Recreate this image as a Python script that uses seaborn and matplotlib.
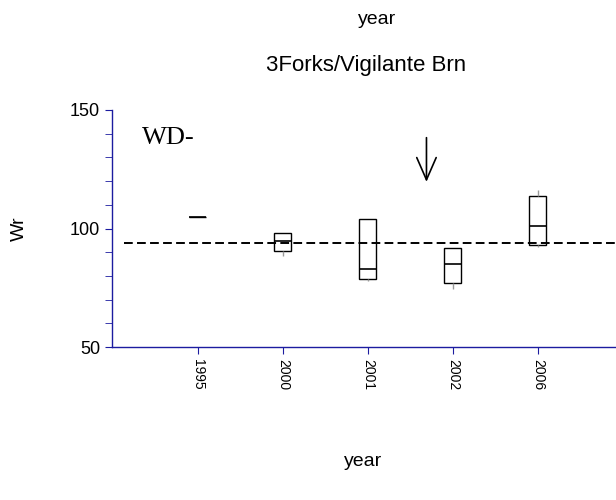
import matplotlib
matplotlib.use("Agg")
import matplotlib.pyplot as plt
from matplotlib.ticker import MultipleLocator
import pandas as pd
import seaborn as sns

# Wr per year: min, q1, median, q3, max
years = ["1995", "2000", "2001", "2002", "2006"]
wr_1995 = [105.0]
wr_2000 = [88.4, 90.6, 94.8, 98.3, 98.3]
wr_2001 = [77.9, 78.6, 83.0, 103.9, 104.2]
wr_2002 = [74.6, 77.0, 85.1, 91.8, 91.8]
wr_2006 = [92.3, 93.0, 101.2, 113.7, 116.2]
wr_ref = 94.0
arrow_top = 139.5
arrow_tip = 118.5

rows = []
for yr, vals in zip(years, [wr_1995, wr_2000, wr_2001, wr_2002, wr_2006]):
    for v in vals:
        rows.append({"year": yr, "Wr": v})
df = pd.DataFrame(rows)

sns.set_style("white")
plt.rcParams["font.family"] = ["Liberation Sans", "DejaVu Sans"]
plt.rcParams["text.color"] = "black"
plt.rcParams["axes.labelcolor"] = "black"
plt.rcParams["xtick.labelcolor"] = "black"
plt.rcParams["ytick.labelcolor"] = "black"
blue = "#1c1ca0"

fig = plt.figure(figsize=(6.16, 5.0), dpi=100)
ax = fig.add_axes([112 / 616, 153 / 500, 504 / 616, 237 / 500])

sns.boxplot(data=df, x="year", y="Wr", order=years, ax=ax, width=0.2,
            linewidth=1, linecolor="black", showcaps=False, showfliers=False,
            boxprops={"facecolor": "none", "edgecolor": "black"},
            whiskerprops={"color": "0.6"},
            medianprops={"color": "black", "linewidth": 1.2})

ax.plot([-0.87, 5.0], [wr_ref, wr_ref], color="black", lw=1.4,
        ls=(0, (4.5, 2.2)), zorder=5)

ax.annotate("", xy=(2.69, arrow_tip), xytext=(2.69, arrow_top),
            arrowprops=dict(arrowstyle="->,head_length=0.8,head_width=0.35",
                            color="black", lw=1.2, mutation_scale=20))
ax.text(-0.66, 138, "WD-", family=["Liberation Serif", "DejaVu Serif"],
        fontsize=19, va="center", ha="left")

ax.set_xlim(-1.01, 4.92)
ax.set_ylim(50, 150)
ax.yaxis.set_major_locator(MultipleLocator(50))
ax.yaxis.set_minor_locator(MultipleLocator(10))
for s in ["top", "right"]:
    ax.spines[s].set_visible(False)
for s in ["left", "bottom"]:
    ax.spines[s].set_color(blue)
    ax.spines[s].set_linewidth(1)
ax.tick_params(axis="y", which="both", direction="out", length=5,
               color=blue, labelsize=13, left=True)
ax.tick_params(axis="x", direction="out", length=5, color=blue,
               labelsize=10, bottom=True, labelrotation=270)
ax.set_xlabel("")
ax.set_ylabel("Wr", fontsize=14, labelpad=30)

fig.text(0.612, 0.96, "year", fontsize=14, ha="center", va="center")
fig.text(0.594, 0.87, "3Forks/Vigilante Brn", fontsize=16, ha="center", va="center")
fig.text(0.59, 0.076, "year", fontsize=14, ha="center", va="center")

fig.savefig("out.png", dpi=100)
